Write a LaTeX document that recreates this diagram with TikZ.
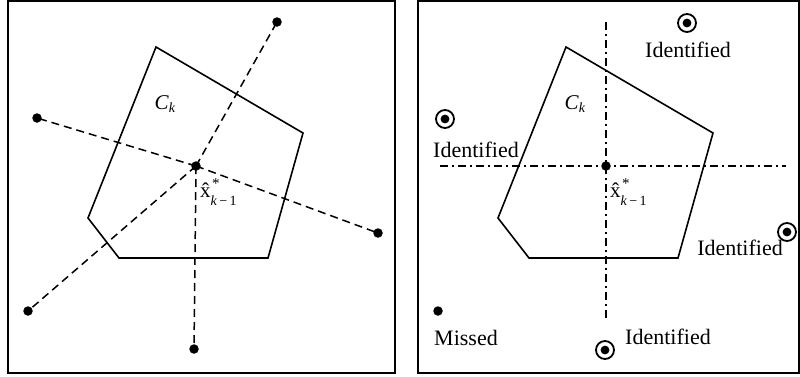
\documentclass[tikz,border=0pt]{standalone}
\usepackage{fontspec}
\setmainfont{Liberation Serif}
\tikzset{
  panel/.style={draw, line width=2pt},
  poly/.style={draw, line width=1.6pt, line join=miter},
  dot/.style={circle, fill, inner sep=0pt, minimum size=9.5pt},
  cdot/.style={circle, draw, line width=1.8pt, inner sep=0pt, minimum size=18pt,
    path picture={\fill (path picture bounding box.center) circle (4.4);}},
  ray/.style={line width=1.5pt, dash pattern=on 8pt off 5pt},
  axis/.style={line width=1.3pt, dash pattern=on 8pt off 4pt on 2pt off 4pt},
  lbl/.style={inner sep=0pt, font=\fontsize{22}{26}\selectfont},
  sml/.style={inner sep=0pt, font=\fontsize{21}{25}\selectfont}
}
\newcommand{\myCk}{\textit{C}\raisebox{-0.35ex}{\fontsize{14}{14}\selectfont\textit{k}}}
\newcommand{\myxhat}{\^{x}\rlap{\raisebox{0.95ex}{\fontsize{15}{15}\selectfont\hspace{0.1em}*}}\raisebox{-0.8ex}{\fontsize{14}{14}\selectfont\textit{k}\,−\,1}}
\begin{document}
\begin{tikzpicture}[x=1pt,y=-1pt]
\useasboundingbox (0,0) rectangle (800,376);
% panels
\draw[panel] (8,1) rectangle (395,373);
\draw[panel] (418,1) rectangle (799,373);
% left polygon
\draw[poly] (156,47) -- (303,133) -- (268,258) -- (119,258) -- (88,218) -- cycle;
\node[dot] (c) at (196,166) {};
\node[dot] (p1) at (277,22) {};
\node[dot] (p2) at (37,118) {};
\node[dot] (p3) at (378,233) {};
\node[dot] (p4) at (194,349) {};
\node[dot] (p5) at (28,311) {};
\foreach \p in {p1,p2,p3,p4,p5} \draw[ray] (c.center) -- (\p.center);
\node[sml] (ck) at (165,104) {\myCk};
\node[sml,anchor=west] (xl) at (200,192) {\myxhat};
% right polygon
\draw[poly] (566,47) -- (713,133) -- (678,258) -- (529,258) -- (498,218) -- cycle;
\coordinate (vt) at (606,22);
\coordinate (vb) at (606,318);
\coordinate (hl) at (440,166);
\coordinate (hr) at (786,166);
\draw[axis] (vt) -- (vb);
\draw[axis] (hl) -- (hr);
\node[dot] (c2) at (606,166) {};
\node[sml] (ck2) at (575,104) {\myCk};
\node[sml,anchor=west] (xl2) at (610,192) {\myxhat};
\node[cdot] (i1) at (687,23) {};
\node[lbl] (t1) at (688,50) {Identified};
\node[cdot] (i2) at (445,119) {};
\node[lbl] (t2) at (476,150) {Identified};
\node[cdot] (i3) at (787,232) {};
\node[lbl] (t3) at (740,248) {Identified};
\node[cdot] (i4) at (605,350) {};
\node[lbl] (t4) at (668,337) {Identified};
\node[dot] (m) at (438,311) {};
\node[lbl] (tm) at (466,338) {Missed};
\end{tikzpicture}
\end{document}
